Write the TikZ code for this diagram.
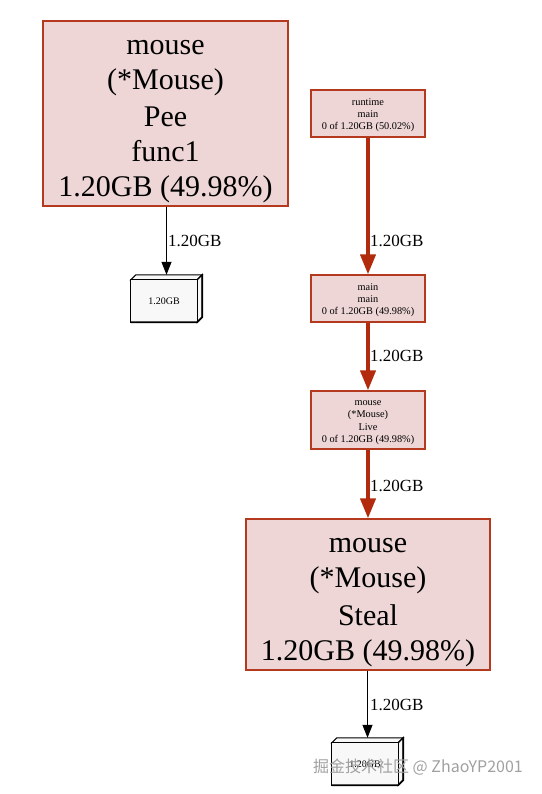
\documentclass[tikz,border=0pt]{standalone}
\usepackage{fontspec}
\setmainfont{Liberation Serif}
\newfontfamily\cjkfont{Noto Sans CJK SC}
\usetikzlibrary{arrows.meta,calc}
\definecolor{nodefill}{HTML}{EDD6D5}
\definecolor{nodeline}{HTML}{B4391E}
\definecolor{edgered}{HTML}{B22B0C}
\definecolor{boxfill}{HTML}{F8F8F8}
\definecolor{wmgray}{HTML}{A0A0A0}
\newcommand{\ls}{\rule[-0.14\baselineskip]{0pt}{\baselineskip}}
\begin{document}
\begin{tikzpicture}[x=1pt,y=-1pt,
  bigbox/.style={draw=nodeline, fill=nodefill, line width=1.2pt, inner sep=0pt, align=center,
    font=\fontsize{30}{35}\selectfont},
  smallbox/.style={draw=nodeline, fill=nodefill, line width=1.2pt, inner sep=0pt, align=center,
    minimum width=114pt, font=\fontsize{10.3}{12}\selectfont},
  boxthree/.style={inner sep=0pt, minimum width=71pt, minimum height=47pt},
  boxlabel/.style={inner sep=0pt, font=\fontsize{10}{12}\selectfont},
  elabel/.style={inner sep=0pt, anchor=west, font=\fontsize{17}{20}\selectfont},
  blackedge/.style={draw=black, line width=1pt, -{Triangle[length=13pt,width=10pt]}},
  rededge/.style={draw=edgered, line width=4pt, -{Triangle[length=20pt,width=15pt]}},
  faceline/.style={draw=black, line width=1.1pt, line join=miter}
]
\useasboundingbox (0,0) rectangle (541,794);

% main nodes
\node[bigbox, minimum width=245pt, minimum height=185pt] (pee) at (165.5,113.5)
  {\ls mouse\\\ls (*Mouse)\\\ls Pee\\\ls func1\\\ls 1.20GB (49.98\%)};
\node[smallbox, minimum height=47pt] (rt) at (368,113.5)
  {\ls runtime\\\ls main\\\ls 0 of 1.20GB (50.02\%)};
\node[smallbox, minimum height=47pt] (mm) at (368,298.5)
  {\ls main\\\ls main\\\ls 0 of 1.20GB (49.98\%)};
\node[smallbox, minimum height=58pt] (live) at (368,420)
  {\ls mouse\\\ls (*Mouse)\\\ls Live\\\ls 0 of 1.20GB (49.98\%)};
\node[bigbox, minimum width=244pt, minimum height=151pt] (steal) at (368,594.5)
  {\ls mouse\\\ls (*Mouse)\\\ls Steal\\\ls 1.20GB (49.98\%)};

% 3D boxes
\node[boxthree] (b1) at (166.5,298.5) {};
\node[boxthree] (b2) at (367.5,761.5) {};
\foreach \b in {b1,b2}{
  \filldraw[faceline, fill=boxfill] ([yshift=-5pt]\b.north west) -- ([xshift=5pt]\b.north west)
     -- (\b.north east) -- ([xshift=-5pt,yshift=-5pt]\b.north east) -- cycle;
  \filldraw[faceline, fill=boxfill] ([xshift=-5pt,yshift=-5pt]\b.north east) -- (\b.north east)
     -- ([yshift=5pt]\b.south east) -- ([xshift=-5pt]\b.south east) -- cycle;
  \filldraw[faceline, fill=boxfill] (\b.south west) rectangle ([xshift=-5pt,yshift=-5pt]\b.north east);
  \draw[black, line width=1.8pt] (\b.south west) -- ([xshift=-5pt]\b.south east)
     -- ([yshift=5pt]\b.south east) -- (\b.north east);
}
\node[boxlabel] (b1t) at ([xshift=-2.5pt,yshift=-2.5pt]b1.center) {1.20GB};
\node[boxlabel] (b2t) at ([xshift=-2.5pt,yshift=-2.5pt]b2.center) {1.20GB};

% edges
\draw[blackedge] (b1.north |- pee.south) -- (b1.north);
\draw[rededge] (rt) -- (mm);
\draw[rededge] (mm) -- (live);
\draw[rededge] (live) -- (steal);
\draw[blackedge] (b2.north |- steal.south) -- (b2.north);

% edge labels
\node[elabel] (l1) at (168,241) {1.20GB};
\node[elabel] (l2) at (370,241) {1.20GB};
\node[elabel] (l3) at (370,356) {1.20GB};
\node[elabel] (l4) at (370,486) {1.20GB};
\node[elabel] (l5) at (370,705) {1.20GB};

% watermark
\node[inner sep=0pt, text=wmgray, font=\cjkfont\fontsize{16}{18}\selectfont] (wm) at (418,767)
  {掘金技术社区 @ ZhaoYP2001};
\end{tikzpicture}
\end{document}
